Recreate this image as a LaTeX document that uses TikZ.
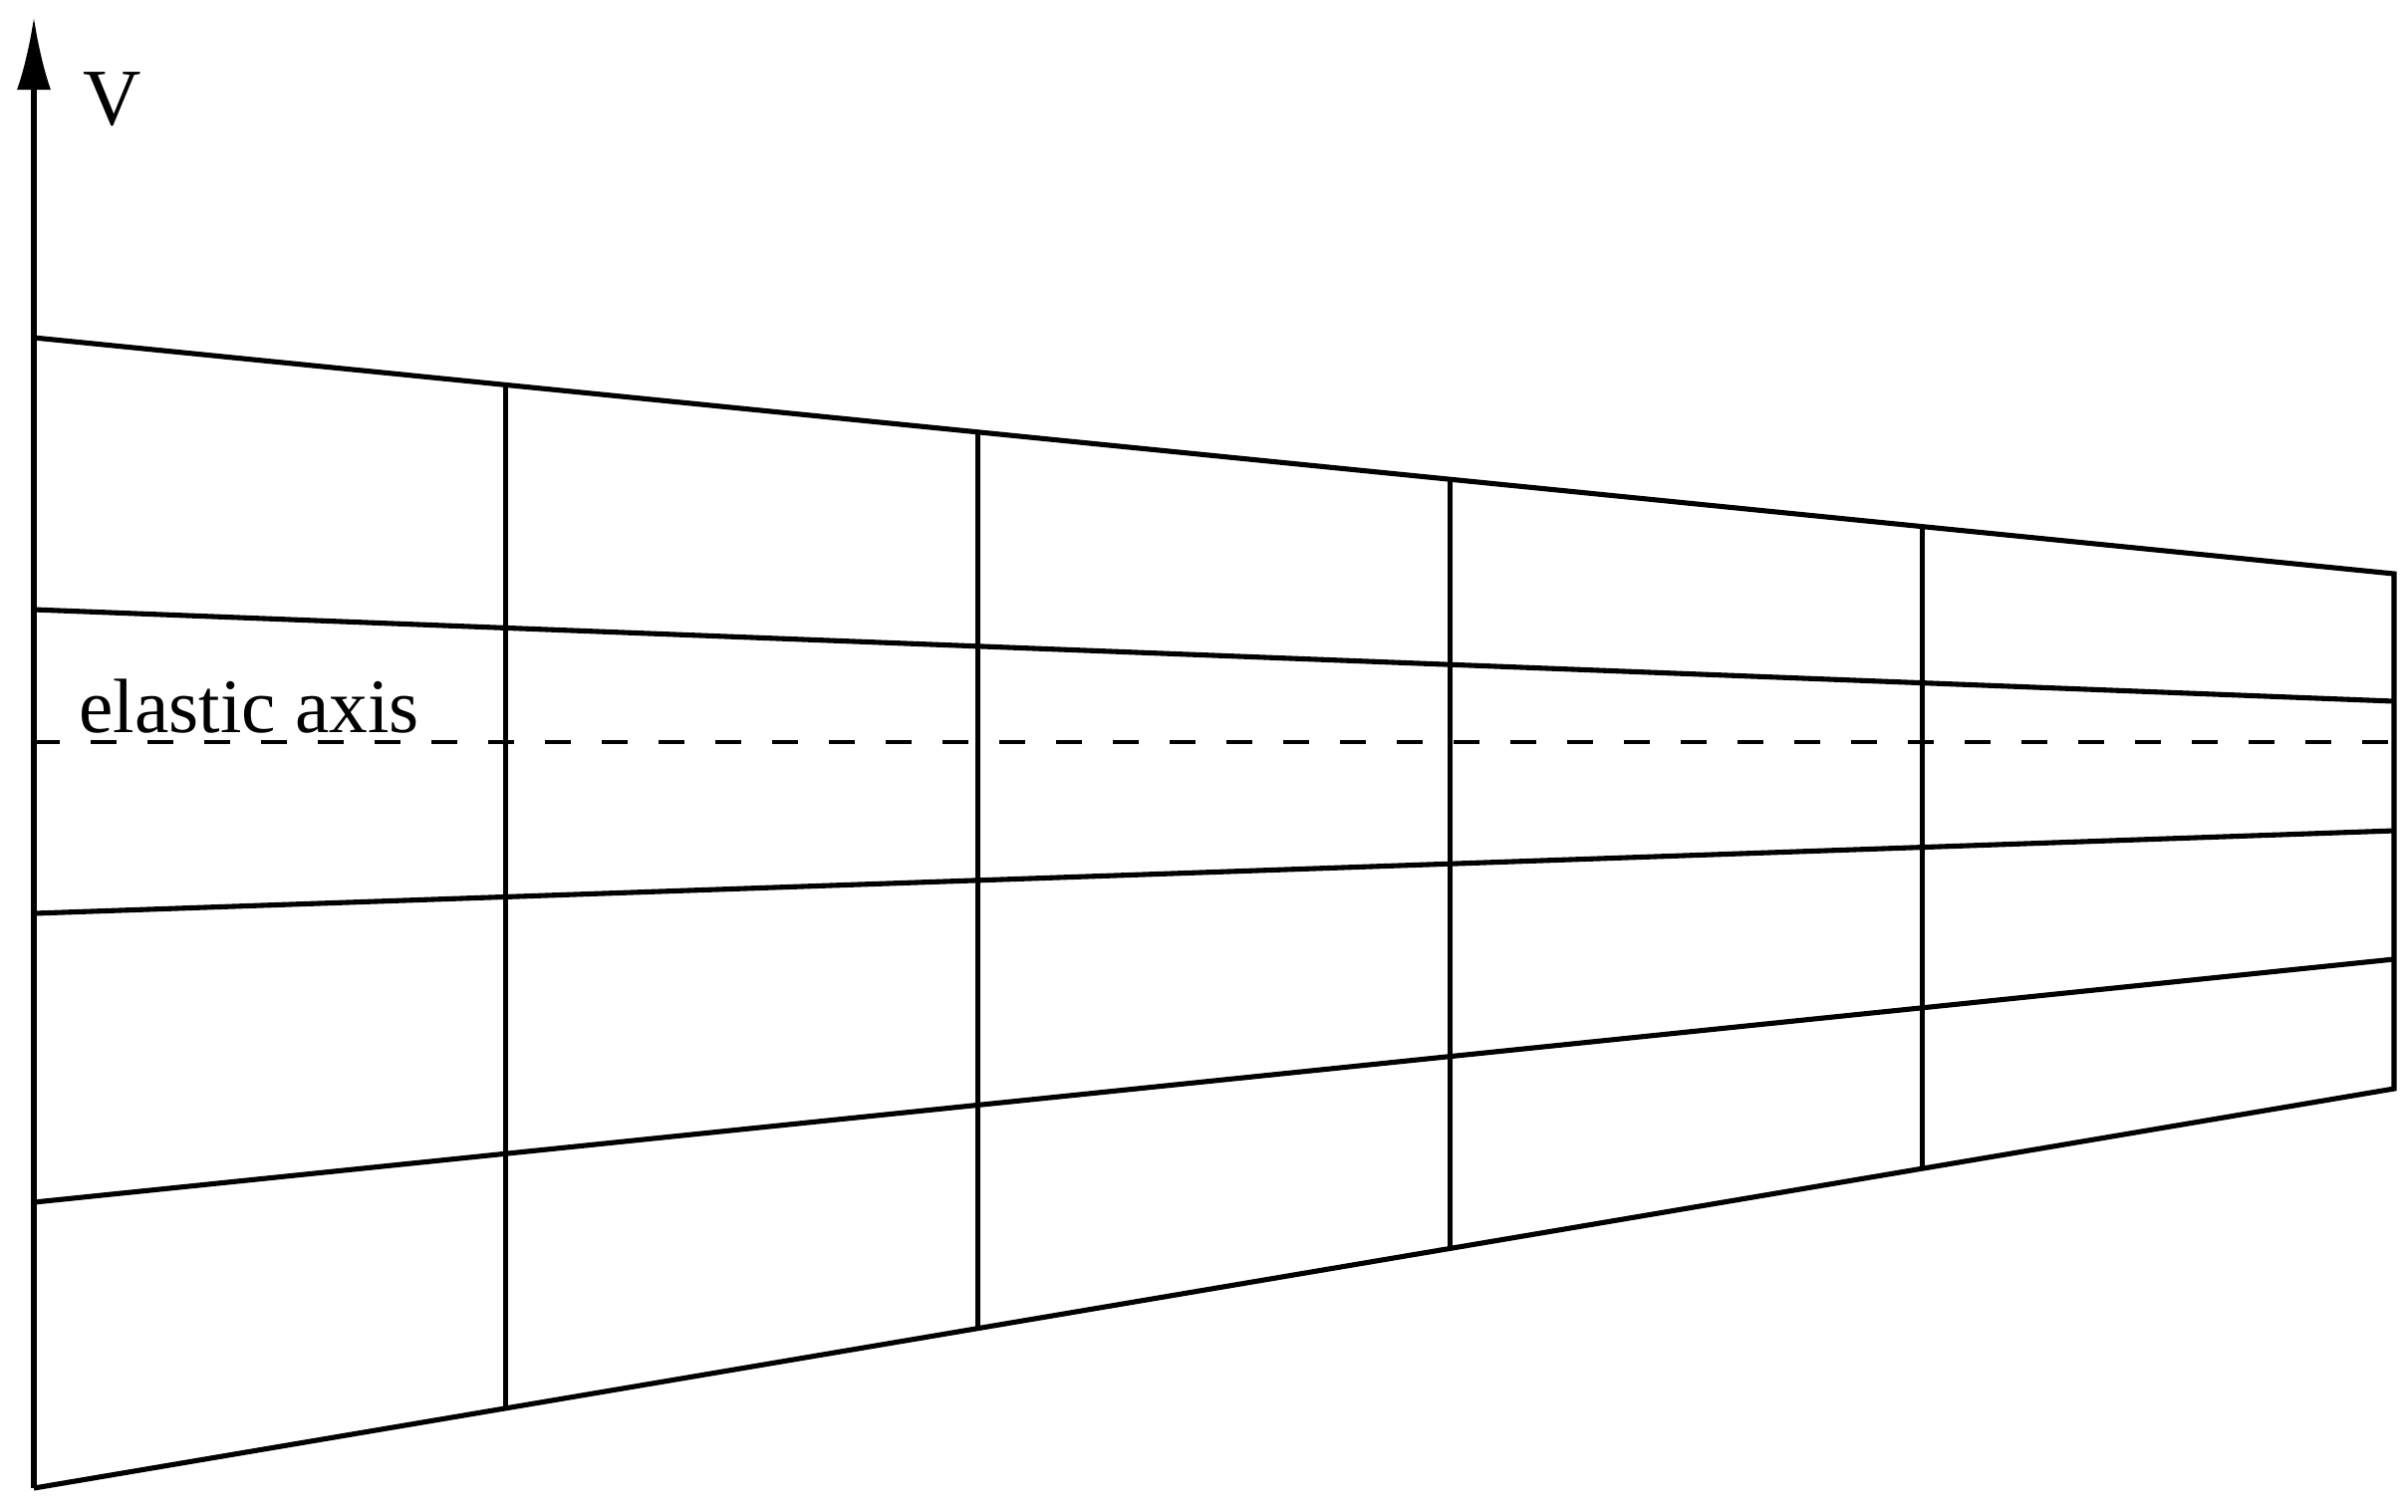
\documentclass[tikz,border=0pt]{standalone}
\usepackage{fontspec}
\setmainfont{Liberation Serif}
\usetikzlibrary{calc,arrows.meta}

\begin{document}
\begin{tikzpicture}[x=1cm,y=-1cm,line width=1.45pt]
\useasboundingbox (0,0) rectangle (24.17,15.17);

% outline of the wing
\coordinate (tl) at (0.34,3.39);
\coordinate (tr) at (24.03,5.76);
\coordinate (bl) at (0.34,14.94);
\coordinate (br) at (24.03,10.93);
\coordinate (top) at (0.34,0.17);

% chordwise lines
\coordinate (l2a) at (0.34,6.12);
\coordinate (l2b) at (24.03,7.04);
\coordinate (l3a) at (0.34,9.17);
\coordinate (l3b) at (24.03,8.34);
\coordinate (l4a) at (0.34,12.07);
\coordinate (l4b) at (24.03,9.63);
\coordinate (ea1) at (0.34,7.45);
\coordinate (ea2) at (24.03,7.45);

\node[font=\fontsize{23}{26}\selectfont] (v) at (1.13,1.00) {V};
\node[font=\fontsize{22}{26}\selectfont,anchor=base west,inner sep=0pt] (ea) at (0.77,7.35) {elastic axis};

\path[draw,-{Latex[length=7.3mm,width=3.4mm]}] (bl) -- (top);
\path[draw] (tl) -- (tr) -- (br) -- (bl);
\path[draw] (l2a) -- (l2b);
\path[draw] (l3a) -- (l3b);
\path[draw] (l4a) -- (l4b);
\path[draw,dash pattern=on 0.26cm off 0.31cm,line width=1.2pt] (ea1) -- (ea2);

% spanwise stations
\path[draw] ($(tl)!0.2!(tr)$) -- ($(bl)!0.2!(br)$);
\path[draw] ($(tl)!0.4!(tr)$) -- ($(bl)!0.4!(br)$);
\path[draw] ($(tl)!0.6!(tr)$) -- ($(bl)!0.6!(br)$);
\path[draw] ($(tl)!0.8!(tr)$) -- ($(bl)!0.8!(br)$);

\end{tikzpicture}
\end{document}
